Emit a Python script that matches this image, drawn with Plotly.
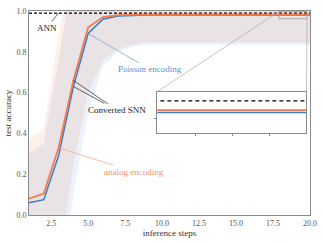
import plotly.graph_objects as go

steps = list(range(1, 21))
analog_acc = [0.08, 0.105, 0.33, 0.66, 0.92, 0.97, 0.98, 0.982, 0.982, 0.982, 0.982, 0.982,
              0.982, 0.982, 0.982, 0.982, 0.982, 0.982, 0.982, 0.982]
poisson_acc = [0.06, 0.075, 0.29, 0.63, 0.89, 0.96, 0.975, 0.979, 0.980, 0.980, 0.980, 0.980,
               0.980, 0.980, 0.980, 0.980, 0.980, 0.980, 0.980, 0.980]
analog_upper = [0.37, 0.42, 0.88, 1.3, 1.3, 1.3, 1.3, 1.3, 1.3, 1.3, 1.3, 1.3, 1.3, 1.3, 1.3,
                1.3, 1.3, 1.3, 1.3, 1.3]
analog_lower = [-0.5, -0.5, -0.25, 0.25, 0.6, 0.76, 0.81, 0.835, 0.845, 0.845, 0.845, 0.845,
                0.845, 0.845, 0.845, 0.845, 0.845, 0.845, 0.845, 0.845]
poisson_upper = [0.30, 0.35, 0.76, 1.2, 1.2, 1.2, 1.2, 1.2, 1.2, 1.2, 1.2, 1.2, 1.2, 1.2, 1.2,
                 1.2, 1.2, 1.2, 1.2, 1.2]
poisson_lower = [-0.6, -0.6, -0.45, 0.1, 0.5, 0.73, 0.80, 0.825, 0.835, 0.835, 0.835, 0.835,
                 0.835, 0.835, 0.835, 0.835, 0.835, 0.835, 0.835, 0.835]
ann_acc = 0.99

x_ticks = [2.5, 5.0, 7.5, 10.0, 12.5, 15.0, 17.5, 20.0]
y_ticks = [0.0, 0.2, 0.4, 0.6, 0.8, 1.0]

X_RANGE = [1, 20]
Y_RANGE = [0, 1.0]
ZOOM_X = [17.9, 19.8]
ZOOM_Y = [0.962, 0.998]

ORANGE = "#f7784a"
BLUE = "#3a7cc1"
FONT = "Liberation Serif"

fig = go.Figure()

# bands
for up, lo, fillc in [(analog_upper, analog_lower, "rgba(244,121,74,0.12)"),
                      (poisson_upper, poisson_lower, "rgba(59,124,192,0.10)")]:
    fig.add_trace(go.Scatter(x=steps, y=up, mode="lines", line=dict(width=0),
                             showlegend=False, hoverinfo="skip"))
    fig.add_trace(go.Scatter(x=steps, y=lo, mode="lines", line=dict(width=0),
                             fill="tonexty", fillcolor=fillc, showlegend=False,
                             hoverinfo="skip"))

for xa, ya, dash in [("x", "y", "3px,2px"), ("x2", "y2", "4px,3px")]:
    fig.add_trace(go.Scatter(x=[X_RANGE[0], X_RANGE[1]], y=[ann_acc, ann_acc], mode="lines",
                             line=dict(color="black", width=1.3, dash=dash),
                             xaxis=xa, yaxis=ya, showlegend=False))
    fig.add_trace(go.Scatter(x=steps, y=poisson_acc, mode="lines",
                             line=dict(color=BLUE, width=1.5), xaxis=xa, yaxis=ya,
                             showlegend=False))
    fig.add_trace(go.Scatter(x=steps, y=analog_acc, mode="lines",
                             line=dict(color=ORANGE, width=1.8), xaxis=xa, yaxis=ya,
                             showlegend=False))

inset_dom_x = [0.4566, 0.9875]
inset_dom_y = [0.4005, 0.6044]

axis_common = dict(showline=True, mirror=True, linecolor="#8a8a8a", linewidth=1,
                   showgrid=False, zeroline=False, automargin=False)

fig.update_layout(
    width=324, height=243,
    margin=dict(l=29, r=14, t=11, b=28),
    paper_bgcolor="white", plot_bgcolor="white",
    font=dict(family=FONT, size=9, color="#333"),
    xaxis=dict(range=X_RANGE, tickvals=x_ticks, ticktext=[f"{v:.1f}" for v in x_ticks],
               ticks="", tickfont=dict(size=8, color="#555"),
               title=dict(text="inference steps", font=dict(size=9, color="#333"), standoff=0),
               **axis_common),
    yaxis=dict(range=Y_RANGE, tickvals=y_ticks, ticktext=[f"{v:.1f}" for v in y_ticks],
               ticks="", tickfont=dict(size=8, color="#555"),
               title=dict(text="test accuracy", font=dict(size=9, color="#333"), standoff=3),
               **axis_common),
    xaxis2=dict(domain=inset_dom_x, anchor="y2", range=ZOOM_X, showticklabels=False,
                ticks="outside", ticklen=2, tickcolor="#8a8a8a",
                tickvals=[18.39, 18.86, 19.33], **axis_common),
    yaxis2=dict(domain=inset_dom_y, anchor="x2", range=ZOOM_Y, showticklabels=False,
                ticks="outside", ticklen=2, tickcolor="#8a8a8a", tickvals=[0.975],
                **axis_common),
)

# zoom indicator rectangle and connectors
def to_paper(v, rng):
    return (v - rng[0]) / (rng[1] - rng[0])

fig.add_shape(type="rect", xref="x", yref="y", x0=ZOOM_X[0], x1=ZOOM_X[1],
              y0=ZOOM_Y[0], y1=ZOOM_Y[1], line=dict(color="#999", width=0.8))
fig.add_shape(type="line", xref="paper", yref="paper",
              x0=inset_dom_x[0], y0=inset_dom_y[1],
              x1=to_paper(ZOOM_X[0], X_RANGE), y1=to_paper(ZOOM_Y[1], Y_RANGE),
              line=dict(color="#aaa", width=0.7))
fig.add_shape(type="line", xref="paper", yref="paper",
              x0=inset_dom_x[1], y0=inset_dom_y[1],
              x1=to_paper(ZOOM_X[1], X_RANGE), y1=to_paper(ZOOM_Y[0], Y_RANGE),
              line=dict(color="#aaa", width=0.7))

arrow = dict(showarrow=True, arrowhead=0, arrowwidth=0.7, xref="x", yref="y")
fig.add_annotation(x=3.0, y=ann_acc, text="ANN", ax=-12, ay=15, arrowcolor="#222",
                   font=dict(size=9, color="#222"), **arrow)
fig.add_annotation(x=5, y=poisson_acc[4], text="Poisson encoding", ax=62, ay=36,
                   arrowcolor="#6a9bd0", font=dict(size=9, color="#5b8fc9"), **arrow)
fig.add_annotation(x=4, y=analog_acc[3], text="Converted SNN", ax=44, ay=30,
                   arrowcolor="#222", font=dict(size=9, color="#222"), **arrow)
fig.add_annotation(x=4, y=poisson_acc[3], text=" ", ax=33, ay=18,
                   arrowcolor="#222", font=dict(size=2), **arrow)
fig.add_annotation(x=3, y=analog_acc[2], text="analog encoding", ax=75, ay=24,
                   arrowcolor="#f9a283", font=dict(size=9, color="#f7906b"), **arrow)

fig.write_html("out.html", config={"displayModeBar": False},
               post_script="document.body.style.margin='0';document.body.style.padding='0';")
